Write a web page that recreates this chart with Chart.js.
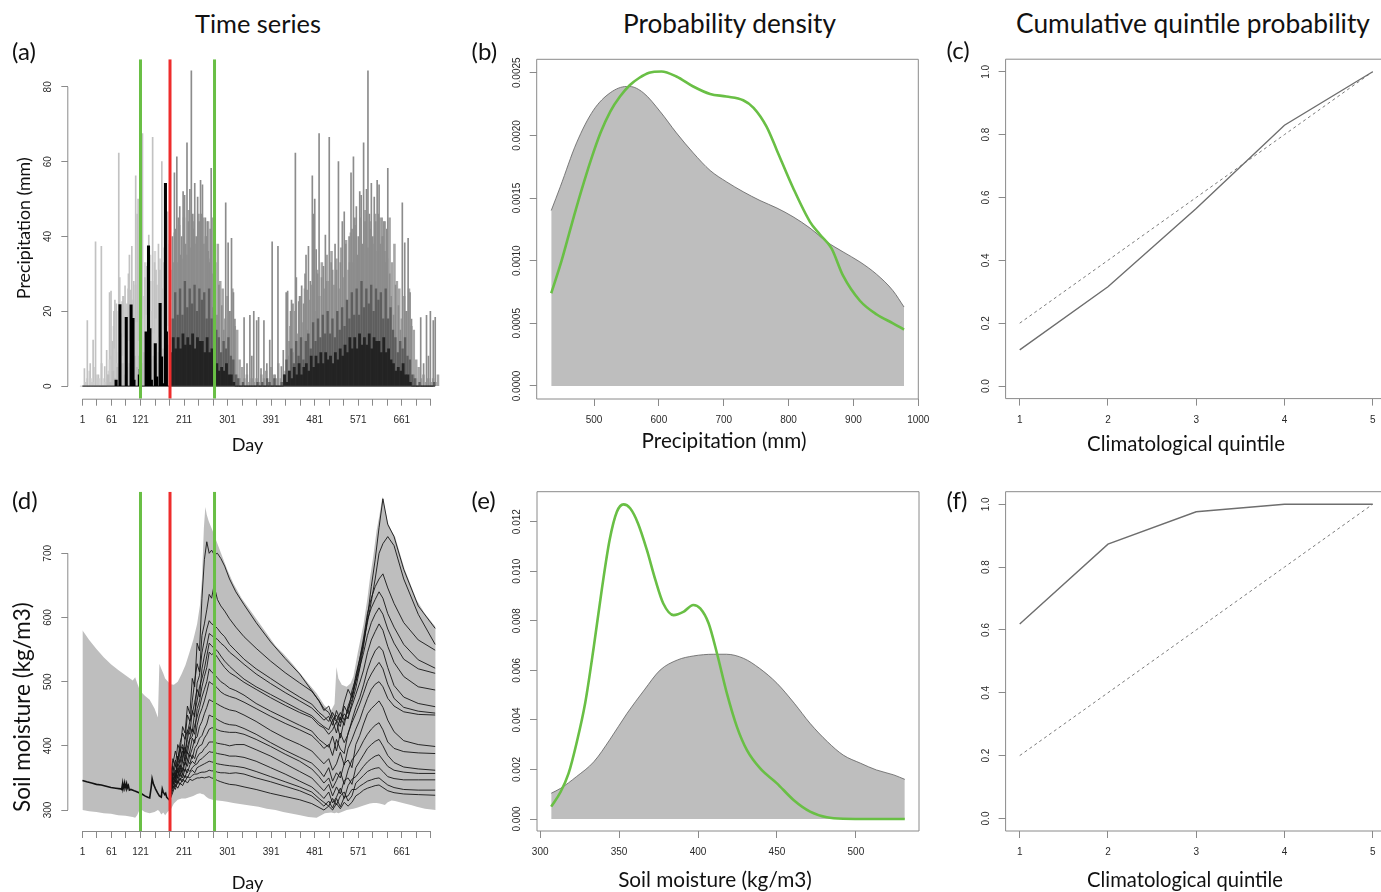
<!DOCTYPE html>
<html>
<head>
<meta charset="utf-8">
<title>Precipitation and soil moisture: time series, densities, quintile probabilities</title>
<script src="https://cdn.jsdelivr.net/npm/chart.js@4.4.1/dist/chart.umd.min.js"></script>
<style>
  html, body { margin:0; padding:0; background:#ffffff; width:1381px; height:892px; overflow:hidden; position:relative; }
  canvas { position:absolute; }
  .txt { position:absolute; white-space:nowrap; font-family:Lato, "Open Sans", sans-serif; color:#111; line-height:1.2; }
</style>
</head>
<body>
<script>
// ======================= DATA =======================
// shared time axis (days)
const tsTickDays  = [1,31,61,91,121,151,181,211,241,271,301,331,361,391,421,451,481,511,541,571,601,631,661,691,721];
const tsLabelDays = [1,61,121,211,301,391,481,571,661];
const greenDays = [121, 274];
const redDays   = [182];

// (a) precipitation (mm)
const precipYTicks = [0,20,40,60,80];
const precipObsDay = [78,86,99,109,113,115,126,128,140,145,148,151,159,162,169,172,175,180,182];
const precipObsVal = [1.6,21.8,18.4,21.7,18.1,1.6,3,4.5,14.5,37.5,15.4,1.6,11.4,2.5,22.1,7.8,0.7,54.2,14.5];
// ensemble climatology, by day of year (the picture shows the same pattern in both years)
const precipDoy = [1,6,11,16,21,26,31,36,41,46,51,56,61,66,71,76,81,86,91,96,101,106,111,116,121,126,131,136,141,146,151,156,161,166,171,176,181,186,191,196,201,206,211,216,221,226,231,236,241,246,251,256,261,266,271,276,281,286,291,296,301,306,311,316,321,326,331,336,341,346,351,356,361];
const precipOuter = [2,4,1,5,3,2,6,2,1,4, 8,16,9,20,14,24,17,26,15,23, 27,20,31,24,33,26,35,28,36,27, 34,26,37,29,39,31,41,33,43,34, 45,35,47,37,44,38,46,36,45,40, 44,34,45,33,38,28,26,18,24,20, 26,16,15,7,5,2,3,1,2,1, 2,1,3];
const precipInner = [0,1,0,2,1,0,2,0,0,1, 3,7,4,10,6,12,8,13,7,12, 14,10,17,12,18,13,19,14,20,14, 18,13,20,15,21,16,23,18,25,19, 26,19,28,21,26,22,27,20,26,23, 25,18,26,18,21,15,13,9,12,10, 13,8,7,3,2,0,1,0,0,0, 0,0,1];
const precipCore  = [0,0,0,0,0,0,0,0,0,0, 0,3,1,4,2,5,3,6,3,5, 6,4,8,5,8,6,9,6,9,7, 8,6,9,7,10,8,11,9,13,10, 13,10,14,11,13,11,14,10,13,12, 12,9,13,9,10,7,6,4,5,4, 6,3,3,1,0,0,0,0,0,0, 0,0,0];
const precipSpikeDoy = [2,8,14,20,25,31,37,44,48,54,57,60,63,65,68,73,75,80,82,86,90,93,95,97,100,104,108,111,113,116,119,122,127,131,135,138,143,147,150,155,158,162,166,170,174,177,180,184,185,188,190,193,196,199,201,203,206,209,211,214,217,220,223,226,228,230,233,236,239,242,244,246,249,252,254,256,258,260,262,264,268,271,276,280,286,290,294,299,302,306,310,313,318,323,332,338,344,348,352,358,362];
const precipSpikeVal = [4.7,17.5,6,12.3,38.6,3,37.4,5.2,9.6,25,25.4,12,20,23,22,62.3,29,22.6,24,26.8,22,30,35,25.7,37.4,28,56.2,46,50,36.5,30,67.5,29,32,40.4,28,66.5,33,31,38,31,60,33,44,46.6,38,22,40,33,57,42,61.3,45,48,35,40,52,51,38,65,44,52.6,84.3,46,42,54.2,40,50.5,44,55,46,53.8,38,45,40,44,36,33,42,58.2,30,24,19,27,21.5,15,49,38.3,20,39.5,25,17.9,3,2,18.3,6,18.9,8,20,17.5,18.4];

// (d) soil moisture (kg/m3)
const smYTicks = [300,400,500,600,700];
const smObsDay = [1,10,20,30,40,50,60,70,80,82,84,85,88,89,92,93,96,98,101,108,112,118,124,130,136,140,143,145,148,152,156,160,164,166,168,171,173,175,180,182];
const smObsVal = [346,344,342,340,339,337,335,334,333,332,341,333,342,334,341,333,338,331,332,330,329,327,325,322,320,319,335,349,340,333,327,322,320,333,328,324,326,320,316,315];
const smEnvDay = [1,15,30,45,60,75,90,105,110,114,120,130,140,150,157,160,164,168,172,178,183,190,198,206,214,222,230,238,244,248,252,255,258,262,270,280,290,300,313,330,347,365,382,400,416,435,451,468,485,502,515,522,526,530,537,547,555,561,570,582,590,595,602,609,615,621,626,632,640,647,657,667,680,692,709,731];
const smEnvUpper = [580,565,551,538,527,518,510,502,507,498,486,478,472,458,444,528,520,513,505,500,496,495,500,512,526,545,565,590,620,660,740,772,760,750,735,715,695,675,653,630,612,593,575,556,544,528,513,497,482,462,455,465,523,505,495,492,497,508,545,590,630,660,695,736,760,788,770,748,735,726,700,675,650,627,606,585];
const smEnvLower = [300,298,297,295,294,292,291,289,288,292,302,297,295,297,300,298,293,296,292,298,300,310,316,318,318,320,322,325,326,325,324,322,320,318,316,315,314,313,311,309,307,305,302,300,297,294,292,289,288,295,296,295,296,295,297,300,301,302,304,307,309,310,311,311,310,309,308,312,315,314,312,310,308,305,302,300];
const smMemberDay = [183,188,193,198,203,208,213,218,223,228,233,238,243,248,253,258,263,268,273,280,287,295,305,318,335,360,390,420,450,475,490,500,510,518,526,534,542,550,558,566,574,582,590,598,606,614,622,632,645,665,695,730];
const smMembers = [
  [352,380,368,402,392,430,420,462,450,505,492,560,548,630, 690,718,700,705,698,700,692,680,660,640,620,592,562,536, 512,486,470,458,452,440,448,436,450,442,468,490,520,555, 600,648,690,740,785,745,726,675,618,583],
  [348,372,392,378,405,420,410,448,438,470,500,528,515,572, 590,612,636,630,650,628,618,610,598,585,570,552,532,514, 498,485,470,455,462,445,438,452,440,458,472,500,528,560, 592,625,660,700,715,726,712,660,605,558],
  [345,368,352,380,395,376,410,425,418,455,445,498,510,545, 565,582,595,590,588,583,576,570,558,548,535,520,505,490, 476,465,452,446,438,452,440,430,462,450,486,505,535,568, 606,630,648,660,668,646,622,592,565,549],
  [342,360,378,368,392,402,385,420,438,450,468,488,476,520, 540,556,575,572,569,566,560,555,546,538,527,512,497,483, 470,459,448,440,446,432,455,440,468,488,476,510,535,562, 596,615,628,640,630,606,585,558,534,521],
  [338,356,350,384,374,398,388,410,430,422,452,470,492,505, 520,540,560,556,552,548,540,532,524,515,504,492,480,468, 456,447,436,430,425,440,420,445,432,462,478,500,522,545, 572,592,605,615,605,582,560,535,520,513],
  [340,352,370,358,380,392,376,398,412,426,418,458,470,492, 508,522,546,542,545,538,530,522,514,508,499,488,475,463, 452,444,432,428,418,425,438,412,440,445,462,480,498,518, 545,565,578,590,580,555,530,508,492,487],
  [336,358,348,372,366,385,398,388,410,415,432,445,460,476, 488,500,520,515,512,506,500,496,490,486,479,466,454,443, 432,423,410,404,398,415,392,420,405,418,440,460,475,495, 518,535,548,555,548,522,494,476,466,461],
  [334,346,362,352,370,360,386,378,392,412,404,432,448,458, 470,484,500,497,495,490,484,480,477,474,468,458,446,435, 425,416,405,396,402,385,410,395,388,420,436,450,465,482, 500,512,522,530,520,496,474,460,454,451],
  [332,352,344,366,358,376,370,390,384,396,410,414,430,438, 450,460,472,470,468,465,462,459,456,454,448,438,424,412, 402,392,380,372,380,362,372,390,370,396,410,426,440,458, 474,488,496,500,492,474,462,453,449,448],
  [330,340,358,350,366,356,375,368,386,380,396,402,412,416, 426,434,448,446,445,441,438,435,433,432,427,418,405,393, 382,373,362,352,366,345,358,350,372,378,366,402,416,434, 450,458,464,470,460,440,422,408,402,399],
  [328,350,342,362,352,366,360,378,372,386,380,394,400,402, 412,418,426,428,428,425,423,422,421,421,418,410,399,387, 376,364,352,342,350,334,346,360,340,362,378,386,396,408, 418,426,432,436,425,406,396,391,389,388],
  [326,338,352,342,358,350,364,358,370,376,372,382,388,390, 396,400,406,406,406,404,403,402,400,402,402,394,384,372, 360,350,338,330,340,322,336,325,346,350,340,366,376,386, 396,402,407,410,400,385,374,367,364,362],
  [324,344,336,352,346,356,350,364,360,366,370,372,378,380, 384,387,391,390,390,388,387,386,384,384,382,376,366,356, 345,336,326,318,328,311,320,334,318,338,348,352,360,368, 375,380,384,386,378,368,362,359,357,357],
  [322,332,346,340,350,344,354,350,358,362,358,366,368,370, 372,374,376,375,374,372,371,370,369,368,366,360,352,344, 336,328,318,312,306,318,308,322,328,314,322,342,348,354, 360,363,365,366,360,352,349,347,347,347],
  [320,338,332,346,340,348,344,352,350,354,356,356,358,359, 359,360,362,361,361,359,358,358,357,358,356,350,344,337, 330,322,313,306,314,303,318,305,320,322,332,332,337,341, 345,347,349,350,345,339,335,332,331,331],
  [318,328,340,334,342,338,346,342,348,346,348,350,350,351, 350,351,352,350,349,346,344,342,340,339,336,332,326,321, 316,310,304,300,306,300,310,302,312,306,312,322,326,331, 334,336,338,339,335,330,327,325,324,323]
];

// (b) precipitation density
const densPrecipXTicks = [500,600,700,800,900,1000];
const densPrecipYTicks = [0,0.0005,0.001,0.0015,0.002,0.0025];
const densPrecipClimX = [434,448,473,499,525,550,555,576,602,627,653,679,704,730,756,782,807,833,859,884,910,936,961,978];
const densPrecipClim  = [0.00140,0.00159,0.00194,0.00220,0.00234,0.00239,0.00239,0.00234,0.00219,0.00202,0.00186,0.00172,0.00163,0.00155,0.00148,0.00142,0.00135,0.00126,0.00115,0.00107,0.00099,0.00089,0.00076,0.00063];
const densPrecipFcX = [434,450,465,480,495,510,525,540,555,570,585,604,627,653,679,704,730,746,766,782,807,833,848,866,884,910,936,961,978];
const densPrecipFc  = [0.00074,0.00100,0.00128,0.00155,0.00180,0.00202,0.00219,0.00231,0.00240,0.00246,0.00250,0.00251,0.00247,0.00239,0.00233,0.00231,0.00228,0.00222,0.00207,0.00188,0.00158,0.00131,0.00121,0.00110,0.00088,0.00068,0.00057,0.00050,0.00045];

// (e) soil moisture density
const densSoilXTicks = [300,350,400,450,500];
const densSoilYTicks = [0,0.002,0.004,0.006,0.008,0.010,0.012];
const densSoilClimX = [307,313,323,334,344,355,366,376,387,397,410,418,429,439,450,461,471,482,492,503,513,524,531];
const densSoilClim  = [0.00104,0.00124,0.00171,0.00231,0.00319,0.00426,0.00521,0.00601,0.00642,0.00658,0.00665,0.00665,0.00648,0.00608,0.00548,0.00467,0.00386,0.00312,0.00258,0.00225,0.00198,0.00178,0.00160];
const densSoilFcX = [307,313,318,323,328.5,334,339,344,348.6,352.8,357,362,367.6,373,378,384.5,391,397,401.4,406.7,412,418.3,424.6,431,439.4,450,460.5,471,481.6,492,510,531];
const densSoilFc  = [0.0005,0.0011,0.00184,0.00305,0.00467,0.00696,0.00924,0.01126,0.0124,0.0127,0.01254,0.01193,0.01086,0.00965,0.0087,0.00823,0.00837,0.00864,0.0085,0.0079,0.00669,0.00507,0.00373,0.00278,0.00204,0.00144,0.00077,0.0003,0.00007,0.00001,0,0];

// (c), (f) cumulative quintile probability
const quintiles = [1,2,3,4,5];
const quintileTicks = [1,2,3,4,5];
const probTicks = [0,0.2,0.4,0.6,0.8,1.0];
const cqpClimatology = [0.2,0.4,0.6,0.8,1.0];
const cqpPrecip = [0.115,0.316,0.565,0.830,1.0];
const cqpSoil   = [0.619,0.873,0.976,1.0,1.0];

// ======================= STYLE / HELPERS =======================
const AXC = '#8a8a8a';
const LABC = '#2a2a2a';
const LABFONT = '10px "Liberation Sans", Arial, sans-serif';
const GREEN = '#69bf45';
const RED = '#ee2c2c';

const rStyle = {
  id: 'rStyle',
  afterDatasetsDraw(chart, args, o) {
    const ctx = chart.ctx, a = chart.chartArea, xs = chart.scales.x, ys = chart.scales.y;
    ctx.save();
    ctx.strokeStyle = AXC; ctx.lineWidth = 1;
    ctx.beginPath();
    if (o.box) {
      ctx.rect(a.left, a.top, a.right - a.left, a.bottom - a.top);
    } else {
      const xt = o.xTicks, yt = o.yTicks;
      ctx.moveTo(xs.getPixelForValue(xt[0]), a.bottom + 0.5);
      ctx.lineTo(xs.getPixelForValue(xt[xt.length - 1]), a.bottom + 0.5);
      ctx.moveTo(a.left - 0.5, ys.getPixelForValue(yt[0]));
      ctx.lineTo(a.left - 0.5, ys.getPixelForValue(yt[yt.length - 1]));
    }
    ctx.stroke();
    ctx.fillStyle = LABC; ctx.font = LABFONT; ctx.textAlign = 'center';
    ctx.textBaseline = 'middle';
    o.xTicks.forEach(v => { const s = o.xFmt(v); if (s) ctx.fillText(s, xs.getPixelForValue(v), a.bottom + 21.5); });
    ctx.textBaseline = 'alphabetic';
    o.yTicks.forEach(v => {
      ctx.save();
      ctx.translate(a.left - 17, ys.getPixelForValue(v));
      ctx.rotate(-Math.PI / 2);
      ctx.fillText(o.yFmt(v), 0, 0);
      ctx.restore();
    });
    ctx.restore();
  }
};

function mkCanvas(left, top, w, h) {
  const c = document.createElement('canvas');
  c.width = w; c.height = h;
  c.style.left = left + 'px'; c.style.top = top + 'px';
  c.style.width = w + 'px'; c.style.height = h + 'px';
  document.body.appendChild(c);
  return c;
}

function mkScales(c) {
  const grid = { display: true, drawOnChartArea: false, drawTicks: true, tickLength: 7, color: AXC, lineWidth: 1, offset: false };
  return {
    x: { type: 'linear', min: c.xMin, max: c.xMax, offset: false, grid: grid, border: { display: false },
         ticks: { display: false },
         afterBuildTicks: s => { s.ticks = c.xTicks.map(v => ({ value: v })); },
         afterFit: s => { s.height = c.bottomH; s.paddingLeft = 0; s.paddingRight = 0; s.paddingTop = 0; s.paddingBottom = 0; } },
    y: { type: 'linear', min: c.yMin, max: c.yMax, grid: grid, border: { display: false },
         ticks: { display: false },
         afterBuildTicks: s => { s.ticks = c.yTicks.map(v => ({ value: v })); },
         afterFit: s => { s.width = c.leftW; s.paddingLeft = 0; s.paddingRight = 0; s.paddingTop = 0; s.paddingBottom = 0; } }
  };
}

function mkOptions(c, scales) {
  return {
    responsive: false, devicePixelRatio: 1, animation: false, events: [],
    layout: { padding: { left: 0, top: c.padTop, right: c.padRight, bottom: 0 } },
    plugins: {
      legend: { display: false }, tooltip: { enabled: false }, title: { display: false },
      rStyle: { box: c.box, xTicks: c.xTicks, yTicks: c.yTicks, xFmt: c.xFmt, yFmt: c.yFmt }
    },
    scales: scales
  };
}

function vline(day, color, yMin, yMax) {
  return { type: 'line', data: [{ x: day, y: yMin }, { x: day, y: yMax }], xAxisID: 'x', yAxisID: 'y',
           borderColor: color, borderWidth: 3, pointRadius: 0, fill: false, tension: 0 };
}
function pts(xs, ys) { return xs.map((x, i) => ({ x: x, y: ys[i] })); }
function twoYears(doys, vals) {
  const out = [];
  doys.forEach((d, i) => { out.push({ x: d, y: vals[i] }); out.push({ x: d + 365, y: vals[i] }); });
  return out.sort((p, q) => p.x - q.x);
}
function barSet(data, axis, thick, light, dark) {
  return { type: 'bar', data: data, xAxisID: axis, yAxisID: 'y', barThickness: thick, borderWidth: 0,
           backgroundColor: ctx => (ctx.raw && ctx.raw.x < redDays[0] ? light : dark) };
}
function hiddenX(c) { return { type: 'linear', min: c.xMin, max: c.xMax, display: false, offset: false }; }

const tsFmt = v => (tsLabelDays.indexOf(v) >= 0 ? String(v) : '');

// ======================= (a) precipitation time series =======================
(function () {
  const c = { xMin: -28.2, xMax: 759.2, yMin: -3.36, yMax: 87.36, xTicks: tsTickDays, yTicks: precipYTicks,
              leftW: 68.3, bottomH: 61.3, padTop: 19.3, padRight: 10.7, box: false,
              xFmt: tsFmt, yFmt: v => String(v) };
  const scales = mkScales(c);
  ['xb1', 'xb2', 'xb3', 'xb4', 'xb5'].forEach(k => { scales[k] = hiddenX(c); });
  const ds = [];
  greenDays.forEach(d => ds.push(vline(d, GREEN, c.yMin, c.yMax)));
  redDays.forEach(d => ds.push(vline(d, RED, c.yMin, c.yMax)));
  ds.push(barSet(pts(precipObsDay, precipObsVal), 'xb1', 2.4, '#000000', '#000000'));
  ds.push({ type: 'line', data: [{ x: 1, y: 0 }, { x: 730, y: 0 }], xAxisID: 'x', yAxisID: 'y',
            borderColor: '#3a3a3a', borderWidth: 1.3, pointRadius: 0, fill: false });
  ds.push(barSet(twoYears(precipDoy, precipCore), 'xb2', 2.2, '#bdbdbd', '#232323'));
  ds.push(barSet(twoYears(precipDoy, precipInner), 'xb3', 1.7, '#cbcbcb', '#5e5e5e'));
  ds.push(barSet(twoYears(precipSpikeDoy, precipSpikeVal), 'xb4', 1, '#c2c2c2', '#8c8c8c'));
  ds.push(barSet(twoYears(precipDoy, precipOuter), 'xb5', 1.9, '#d8d8d8', '#a6a6a6'));
  new Chart(mkCanvas(0, 40, 460, 420), { type: 'bar', data: { datasets: ds }, options: mkOptions(c, scales), plugins: [rStyle] });
})();

// ======================= (d) soil moisture time series =======================
(function () {
  const c = { xMin: -28.2, xMax: 759.2, yMin: 267.3, yMax: 796, xTicks: tsTickDays, yTicks: smYTicks,
              leftW: 68.3, bottomH: 61, padTop: 21.7, padRight: 10.7, box: false,
              xFmt: tsFmt, yFmt: v => String(v) };
  const ds = [];
  greenDays.forEach(d => ds.push(vline(d, GREEN, c.yMin, c.yMax)));
  redDays.forEach(d => ds.push(vline(d, RED, c.yMin, c.yMax)));
  ds.push({ type: 'line', data: pts(smObsDay, smObsVal), borderColor: '#111111', borderWidth: 1.6, pointRadius: 0, tension: 0, fill: false });
  smMembers.forEach(m => ds.push({ type: 'line', data: pts(smMemberDay, m), borderColor: '#151515', borderWidth: 0.9, pointRadius: 0, tension: 0, fill: false }));
  ds.push({ type: 'line', data: pts(smEnvDay, smEnvUpper), borderColor: 'rgba(0,0,0,0)', borderWidth: 0, pointRadius: 0, tension: 0,
            fill: '+1', backgroundColor: '#bebebe' });
  ds.push({ type: 'line', data: pts(smEnvDay, smEnvLower), borderColor: 'rgba(0,0,0,0)', borderWidth: 0, pointRadius: 0, tension: 0, fill: false });
  new Chart(mkCanvas(0, 470, 460, 422), { type: 'line', data: { datasets: ds }, options: mkOptions(c, mkScales(c)), plugins: [rStyle] });
})();

// ======================= (b) precipitation density =======================
(function () {
  const c = { xMin: 411.6, xMax: 1000, yMin: -0.000104, yMax: 0.002607, xTicks: densPrecipXTicks, yTicks: densPrecipYTicks,
              leftW: 76.7, bottomH: 61, padTop: 19.3, padRight: 21.7, box: true,
              xFmt: v => String(v), yFmt: v => v.toFixed(4) };
  const ds = [
    { type: 'line', data: pts(densPrecipFcX, densPrecipFc), borderColor: GREEN, borderWidth: 2.6, pointRadius: 0, cubicInterpolationMode: 'monotone', fill: false },
    { type: 'line', data: pts(densPrecipClimX, densPrecipClim), borderColor: '#5e5e5e', borderWidth: 0.8, pointRadius: 0, cubicInterpolationMode: 'monotone',
      fill: 'origin', backgroundColor: '#bebebe' }
  ];
  new Chart(mkCanvas(460, 40, 480, 420), { type: 'line', data: { datasets: ds }, options: mkOptions(c, mkScales(c)), plugins: [rStyle] });
})();

// ======================= (e) soil moisture density =======================
(function () {
  const c = { xMin: 298, xMax: 540, yMin: -0.000484, yMax: 0.01321, xTicks: densSoilXTicks, yTicks: densSoilYTicks,
              leftW: 77, bottomH: 61, padTop: 21.7, padRight: 21, box: true,
              xFmt: v => String(v), yFmt: v => v.toFixed(3) };
  const ds = [
    { type: 'line', data: pts(densSoilFcX, densSoilFc), borderColor: GREEN, borderWidth: 2.6, pointRadius: 0, cubicInterpolationMode: 'monotone', fill: false },
    { type: 'line', data: pts(densSoilClimX, densSoilClim), borderColor: '#5e5e5e', borderWidth: 0.8, pointRadius: 0, cubicInterpolationMode: 'monotone',
      fill: 'origin', backgroundColor: '#bebebe' }
  ];
  new Chart(mkCanvas(460, 470, 480, 422), { type: 'line', data: { datasets: ds }, options: mkOptions(c, mkScales(c)), plugins: [rStyle] });
})();

// ======================= (c), (f) cumulative quintile probability =======================
function cqpChart(top, padTop, bottomH, series) {
  const c = { xMin: 0.84, xMax: 5.16, yMin: -0.04, yMax: 1.04, xTicks: quintileTicks, yTicks: probTicks,
              leftW: 65.6, bottomH: bottomH, padTop: padTop, padRight: 3.2, box: true,
              xFmt: v => String(v), yFmt: v => v.toFixed(1) };
  const ds = [
    { type: 'line', data: pts(quintiles, series), borderColor: '#6e6e6e', borderWidth: 1.4, pointRadius: 0, tension: 0, fill: false },
    { type: 'line', data: pts(quintiles, cqpClimatology), borderColor: '#7a7a7a', borderWidth: 1, borderDash: [3, 3], pointRadius: 0, tension: 0, fill: false }
  ];
  new Chart(mkCanvas(940, top, 450, top === 40 ? 420 : 422), { type: 'line', data: { datasets: ds }, options: mkOptions(c, mkScales(c)), plugins: [rStyle] });
}
cqpChart(40, 19.2, 61.4, cqpPrecip);
cqpChart(470, 21.7, 61, cqpSoil);

// ======================= TEXT =======================
function addText(spec) {
  const el = document.createElement('div');
  el.className = 'txt';
  const span = document.createElement('span');
  span.textContent = spec.t;
  const mark = document.createElement('span');
  mark.style.cssText = 'display:inline-block;width:0;height:0;vertical-align:baseline;';
  el.appendChild(span); el.appendChild(mark);
  el.style.left = '0px'; el.style.top = '0px';
  el.style.fontSize = (spec.size || 20) + 'px';
  document.body.appendChild(el);
  if (spec.w) {
    const w0 = span.getBoundingClientRect().width;
    el.style.fontSize = (20 * spec.w / w0) + 'px';
  }
  const w = span.getBoundingClientRect().width;
  const b = mark.getBoundingClientRect().top - el.getBoundingClientRect().top;
  if (spec.rot) {
    el.style.transformOrigin = '0 0';
    el.style.transform = 'rotate(-90deg)';
    el.style.left = (spec.bx - b) + 'px';
    el.style.top = (spec.cy + w / 2) + 'px';
  } else {
    const left = spec.cx !== undefined ? spec.cx - w / 2 : spec.left;
    el.style.left = left + 'px';
    el.style.top = (spec.base - b) + 'px';
  }
}

[
  { t: 'Time series', cx: 258, base: 33, w: 126 },
  { t: 'Probability density', cx: 729.5, base: 33, w: 213 },
  { t: 'Cumulative quintile probability', cx: 1193, base: 33, w: 354 },
  { t: 'Day', cx: 247.5, base: 451, w: 31.6 },
  { t: 'Precipitation (mm)', cx: 724, base: 448, w: 165 },
  { t: 'Climatological quintile', cx: 1186, base: 451, w: 198 },
  { t: 'Day', cx: 247.5, base: 888.5, w: 31.6 },
  { t: 'Soil moisture (kg/m3)', cx: 715, base: 886.5, w: 193.7 },
  { t: 'Climatological quintile', cx: 1185, base: 886.5, w: 196 },
  { t: 'Precipitation (mm)', rot: true, bx: 30, cy: 228, w: 141.7 },
  { t: 'Soil moisture (kg/m3)', rot: true, bx: 30, cy: 707, w: 210 },
  { t: '(a)', left: 12, base: 60, size: 24 },
  { t: '(b)', left: 471.5, base: 60, size: 24 },
  { t: '(c)', left: 946.5, base: 59, size: 24 },
  { t: '(d)', left: 12, base: 509, size: 24 },
  { t: '(e)', left: 471.5, base: 509, size: 24 },
  { t: '(f)', left: 946.5, base: 509, size: 24 }
].forEach(addText);
</script>
</body>
</html>
